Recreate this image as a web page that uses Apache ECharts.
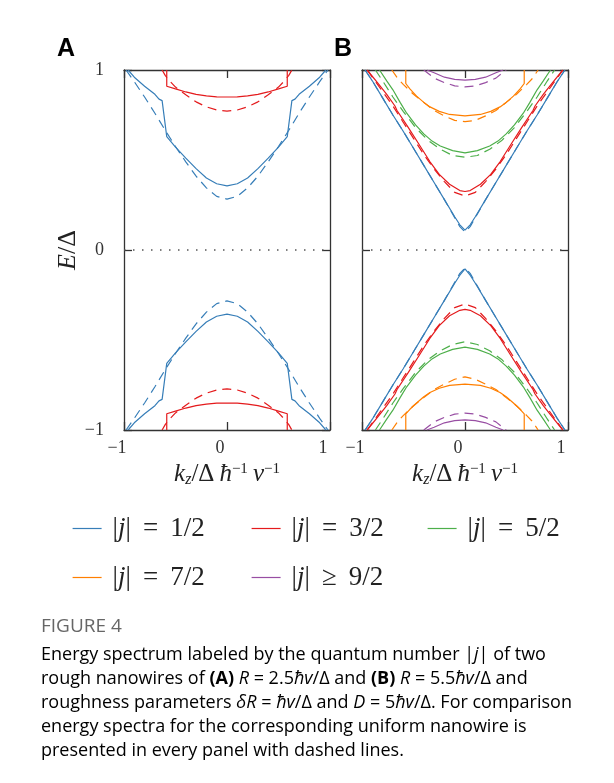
<!DOCTYPE html>
<html><head><meta charset="utf-8">
<script src="https://cdn.jsdelivr.net/npm/echarts@6/dist/echarts.min.js"></script>
<style>html,body{margin:0;padding:0;background:#fff}#c{width:614px;height:783px}</style>
</head><body><div id="c"></div>
<script>
// ---------- DATA ----------
const xTicks = [-1, 0, 1];
const yTicks = [-1, 0, 1];
const legendNames = ['|j| = 1/2', '|j| = 3/2', '|j| = 5/2', '|j| = 7/2', '|j| ≥ 9/2'];
const colors = ['#377eb8', '#e41a1c', '#4daf4a', '#ff7f00', '#984ea3'];

// Panel A (R = 2.5) — rough (solid) and uniform (dashed)
const kA_b   = [-0.96,-0.9,-0.8,-0.7,-0.66,-0.63,-0.585,-0.5,-0.4,-0.3,-0.2,-0.1,0,0.1,0.2,0.3,0.4,0.5,0.585,0.63,0.66,0.7,0.8,0.9,0.96];
const eA_b_up= [1.0,0.96,0.91,0.865,0.838,0.83,0.63,0.572,0.51,0.452,0.40,0.368,0.356,0.368,0.40,0.452,0.51,0.572,0.63,0.83,0.838,0.865,0.91,0.96,1.0];
const eA_b_dn= [-1.0,-0.96,-0.91,-0.865,-0.838,-0.83,-0.63,-0.572,-0.51,-0.452,-0.40,-0.368,-0.356,-0.368,-0.40,-0.452,-0.51,-0.572,-0.63,-0.83,-0.838,-0.865,-0.91,-0.96,-1.0];
const kA_bd  = [-0.98,-0.9,-0.8,-0.7,-0.6,-0.5,-0.4,-0.3,-0.2,-0.1,0,0.1,0.2,0.3,0.4,0.5,0.6,0.7,0.8,0.9,0.98];
const eA_bd_up=[1.0,0.935,0.85,0.76,0.665,0.575,0.49,0.41,0.345,0.298,0.283,0.298,0.345,0.41,0.49,0.575,0.665,0.76,0.85,0.935,1.0];
const eA_bd_dn=[-1.0,-0.935,-0.85,-0.76,-0.665,-0.575,-0.49,-0.41,-0.345,-0.298,-0.283,-0.298,-0.345,-0.41,-0.49,-0.575,-0.665,-0.76,-0.85,-0.935,-1.0];
const kA_r   = [-0.585,-0.585,-0.5,-0.4,-0.3,-0.2,-0.1,0,0.1,0.2,0.3,0.4,0.5,0.585,0.585];
const eA_r_up= [1.0,0.91,0.895,0.878,0.865,0.856,0.851,0.85,0.851,0.856,0.865,0.878,0.895,0.91,1.0];
const eA_r_dn= [-1.0,-0.91,-0.895,-0.878,-0.865,-0.856,-0.851,-0.85,-0.851,-0.856,-0.865,-0.878,-0.895,-0.91,-1.0];
const kA_rd  = [-0.63,-0.6,-0.55,-0.5,-0.4,-0.3,-0.2,-0.1,0,0.1,0.2,0.3,0.4,0.5,0.55,0.6,0.63];
const eA_rd_up=[1.0,0.97,0.935,0.905,0.862,0.823,0.795,0.778,0.772,0.778,0.795,0.823,0.862,0.905,0.935,0.97,1.0];
const eA_rd_dn=[-1.0,-0.97,-0.935,-0.905,-0.862,-0.823,-0.795,-0.778,-0.772,-0.778,-0.795,-0.823,-0.862,-0.905,-0.935,-0.97,-1.0];

// Panel B (R = 5.5)
const kB_b   = [-0.97,-0.9,-0.8,-0.7,-0.6,-0.5,-0.4,-0.3,-0.2,-0.1,-0.05,0,0.05,0.1,0.2,0.3,0.4,0.5,0.6,0.7,0.8,0.9,0.97];
const eB_b_up= [1.0,0.94,0.845,0.75,0.66,0.565,0.47,0.375,0.28,0.185,0.14,0.11,0.14,0.185,0.28,0.375,0.47,0.565,0.66,0.75,0.845,0.94,1.0];
const eB_b_dn= [-1.0,-0.94,-0.845,-0.75,-0.66,-0.565,-0.47,-0.375,-0.28,-0.185,-0.14,-0.105,-0.14,-0.185,-0.28,-0.375,-0.47,-0.565,-0.66,-0.75,-0.845,-0.94,-1.0];
const eB_bd_up=[1.0,0.94,0.845,0.75,0.66,0.565,0.47,0.375,0.28,0.18,0.13,0.10,0.13,0.18,0.28,0.375,0.47,0.565,0.66,0.75,0.845,0.94,1.0];
const eB_bd_dn=[-1.0,-0.94,-0.845,-0.75,-0.66,-0.565,-0.47,-0.375,-0.28,-0.18,-0.13,-0.10,-0.13,-0.18,-0.28,-0.375,-0.47,-0.565,-0.66,-0.75,-0.845,-0.94,-1.0];
const kB_r   = [-0.95,-0.85,-0.76,-0.68,-0.66,-0.55,-0.45,-0.34,-0.25,-0.15,-0.05,0,0.05,0.15,0.25,0.34,0.45,0.55,0.66,0.68,0.76,0.85,0.95];
const eB_r_up= [1.0,0.93,0.865,0.8,0.775,0.68,0.59,0.49,0.42,0.365,0.33,0.325,0.33,0.365,0.42,0.49,0.59,0.68,0.775,0.8,0.865,0.93,1.0];
const eB_r_dn= [-1.0,-0.93,-0.865,-0.8,-0.775,-0.68,-0.59,-0.49,-0.42,-0.365,-0.335,-0.33,-0.335,-0.365,-0.42,-0.49,-0.59,-0.68,-0.775,-0.8,-0.865,-0.93,-1.0];
const kB_rd  = [-0.95,-0.9,-0.8,-0.7,-0.6,-0.5,-0.4,-0.3,-0.2,-0.1,0,0.1,0.2,0.3,0.4,0.5,0.6,0.7,0.8,0.9,0.95];
const eB_rd_up=[1.0,0.96,0.88,0.80,0.71,0.62,0.53,0.45,0.38,0.32,0.30,0.32,0.38,0.45,0.53,0.62,0.71,0.80,0.88,0.96,1.0];
const eB_rd_dn=[-1.0,-0.96,-0.88,-0.80,-0.71,-0.62,-0.53,-0.45,-0.38,-0.32,-0.30,-0.32,-0.38,-0.45,-0.53,-0.62,-0.71,-0.80,-0.88,-0.96,-1.0];
const kB_g   = [-0.83,-0.76,-0.70,-0.63,-0.566,-0.48,-0.40,-0.32,-0.24,-0.12,0,0.12,0.24,0.32,0.40,0.48,0.566,0.63,0.70,0.76,0.83];
const eB_g_up= [1.0,0.94,0.89,0.82,0.76,0.695,0.645,0.605,0.578,0.552,0.54,0.552,0.578,0.605,0.645,0.695,0.76,0.82,0.89,0.94,1.0];
const eB_g_dn= [-1.0,-0.94,-0.89,-0.82,-0.76,-0.695,-0.645,-0.605,-0.578,-0.552,-0.54,-0.552,-0.578,-0.605,-0.645,-0.695,-0.76,-0.82,-0.89,-0.94,-1.0];
const kB_gd  = [-0.87,-0.8,-0.7,-0.6,-0.48,-0.36,-0.24,-0.12,0,0.12,0.24,0.36,0.48,0.6,0.7,0.8,0.87];
const eB_gd_up=[1.0,0.94,0.85,0.77,0.68,0.61,0.56,0.525,0.515,0.525,0.56,0.61,0.68,0.77,0.85,0.94,1.0];
const eB_gd_dn=[-1.0,-0.94,-0.85,-0.77,-0.68,-0.61,-0.56,-0.525,-0.51,-0.525,-0.56,-0.61,-0.68,-0.77,-0.85,-0.94,-1.0];
const kB_o   = [-0.575,-0.575,-0.535,-0.47,-0.4,-0.34,-0.25,-0.15,0,0.15,0.25,0.34,0.4,0.47,0.535,0.575,0.575];
const eB_o_up= [1.0,0.925,0.895,0.855,0.82,0.795,0.77,0.753,0.745,0.753,0.77,0.795,0.82,0.855,0.895,0.925,1.0];
const eB_o_dn= [-1.0,-0.91,-0.885,-0.85,-0.815,-0.792,-0.768,-0.752,-0.745,-0.752,-0.768,-0.792,-0.815,-0.85,-0.885,-0.91,-1.0];
const kB_od  = [-0.71,-0.65,-0.6,-0.5,-0.4,-0.3,-0.2,-0.1,0,0.1,0.2,0.3,0.4,0.5,0.6,0.65,0.71];
const eB_od_up=[1.0,0.95,0.92,0.865,0.82,0.775,0.745,0.72,0.713,0.72,0.745,0.775,0.82,0.865,0.92,0.95,1.0];
const eB_od_dn=[-1.0,-0.95,-0.92,-0.865,-0.82,-0.775,-0.745,-0.718,-0.705,-0.718,-0.745,-0.775,-0.82,-0.865,-0.92,-0.95,-1.0];
const kB_p   = [-0.37,-0.3,-0.2,-0.1,0,0.1,0.2,0.3,0.37];
const eB_p_up= [1.0,0.985,0.96,0.948,0.944,0.948,0.96,0.985,1.0];
const eB_p_dn= [-1.0,-0.985,-0.96,-0.948,-0.944,-0.948,-0.96,-0.985,-1.0];
const kB_pd  = [-0.4,-0.3,-0.2,-0.1,0,0.1,0.2,0.3,0.4];
const eB_pd_up=[1.0,0.955,0.93,0.912,0.906,0.912,0.93,0.955,1.0];
const eB_pd_dn=[-1.0,-0.955,-0.93,-0.912,-0.906,-0.912,-0.93,-0.955,-1.0];
const zeroLine = [[-1, 0], [1, 0]];

// ---------- CHART ----------
const SERIF = "'Liberation Serif', 'DejaVu Serif', serif";
const SANS = "'Open Sans', 'Noto Sans', sans-serif";
const axisColor = '#333';

function pairs(k, e) { return k.map((x, i) => [x, e[i]]); }
function line(name, gi, k, e, ci, dashed) {
  return {
    name: name, type: 'line', xAxisIndex: gi * 2, yAxisIndex: gi * 2,
    data: pairs(k, e), symbol: 'none', clip: true, animation: false,
    lineStyle: { color: colors[ci], width: 1.2, type: dashed ? [9, 6] : 'solid' },
    itemStyle: { color: colors[ci] }, z: dashed ? 3 : 4
  };
}
const tickLbl = v => (v < 0 ? '\u2212' + Math.abs(v) : String(v));

function xAx(gi, pos, showLabel, withName) {
  return {
    type: 'value', gridIndex: gi, position: pos, min: -1, max: 1, interval: 1,
    axisLine: { show: true, onZero: false, lineStyle: { color: axisColor, width: 1.3 } },
    axisTick: { show: true, inside: true, length: 8, lineStyle: { color: axisColor, width: 1.3 } },
    splitLine: { show: false },
    axisLabel: { show: showLabel, formatter: tickLbl, fontFamily: SERIF, fontSize: 18, color: '#333', margin: 9, padding: [0, 14, 0, 0] },
    name: withName ? '{i|k}{s|z}{n|/\u0394\u2009}{i|\u0127}{p|\u22121}{n|\u2009}{i|v}{p|\u22121}' : '',
    nameLocation: 'middle', nameGap: 31,
    nameTextStyle: {
      rich: {
        i: { fontFamily: SERIF, fontStyle: 'italic', fontSize: 25, color: '#222' },
        n: { fontFamily: SERIF, fontSize: 25, color: '#222' },
        s: { fontFamily: SERIF, fontStyle: 'italic', fontSize: 16, color: '#222', padding: [11, 0, 0, 0] },
        p: { fontFamily: SERIF, fontSize: 15, color: '#222', padding: [0, 0, 11, 0] }
      }
    }
  };
}
function yAx(gi, pos, showLabel, withName) {
  return {
    type: 'value', gridIndex: gi, position: pos, min: -1, max: 1, interval: 1,
    axisLine: { show: true, onZero: false, lineStyle: { color: axisColor, width: 1.3 } },
    axisTick: { show: true, inside: true, length: 8, lineStyle: { color: axisColor, width: 1.3 } },
    splitLine: { show: false },
    axisLabel: { show: showLabel, formatter: tickLbl, fontFamily: SERIF, fontSize: 18, color: '#333', margin: 20 },
    name: withName ? '{i|E}{n|/\u0394}' : '',
    nameLocation: 'middle', nameGap: 41, nameRotate: 90,
    nameTextStyle: {
      rich: {
        i: { fontFamily: SERIF, fontStyle: 'italic', fontSize: 26, color: '#222' },
        n: { fontFamily: SERIF, fontSize: 26, color: '#222' }
      }
    }
  };
}

const series = [
  // Panel A
  line('uA1', 0, kA_bd, eA_bd_up, 0, true), line('uA1d', 0, kA_bd, eA_bd_dn, 0, true),
  line('uA2', 0, kA_rd, eA_rd_up, 1, true), line('uA2d', 0, kA_rd, eA_rd_dn, 1, true),
  line(legendNames[0], 0, kA_b, eA_b_up, 0, false), line('rA1d', 0, kA_b, eA_b_dn, 0, false),
  line(legendNames[1], 0, kA_r, eA_r_up, 1, false), line('rA2d', 0, kA_r, eA_r_dn, 1, false),
  // Panel B
  line('uB1', 1, kB_b, eB_bd_up, 0, true), line('uB1d', 1, kB_b, eB_bd_dn, 0, true),
  line('uB2', 1, kB_rd, eB_rd_up, 1, true), line('uB2d', 1, kB_rd, eB_rd_dn, 1, true),
  line('uB3', 1, kB_gd, eB_gd_up, 2, true), line('uB3d', 1, kB_gd, eB_gd_dn, 2, true),
  line('uB4', 1, kB_od, eB_od_up, 3, true), line('uB4d', 1, kB_od, eB_od_dn, 3, true),
  line('uB5', 1, kB_pd, eB_pd_up, 4, true), line('uB5d', 1, kB_pd, eB_pd_dn, 4, true),
  line('rB1', 1, kB_b, eB_b_up, 0, false), line('rB1d', 1, kB_b, eB_b_dn, 0, false),
  line('rB2', 1, kB_r, eB_r_up, 1, false), line('rB2d', 1, kB_r, eB_r_dn, 1, false),
  line(legendNames[2], 1, kB_g, eB_g_up, 2, false), line('rB3d', 1, kB_g, eB_g_dn, 2, false),
  line(legendNames[3], 1, kB_o, eB_o_up, 3, false), line('rB4d', 1, kB_o, eB_o_dn, 3, false),
  line(legendNames[4], 1, kB_p, eB_p_up, 4, false), line('rB5d', 1, kB_p, eB_p_dn, 4, false)
];
[0, 1].forEach(gi => series.push({
  type: 'line', xAxisIndex: gi * 2, yAxisIndex: gi * 2, data: zeroLine, symbol: 'none', animation: false,
  lineStyle: { color: '#555', width: 1.3, type: [1.5, 7.5] }, z: 2
}));

const legendPos = [[72, 515], [251, 515], [427, 515], [72, 564], [251, 564]];
const legends = legendNames.map((n, i) => ({
  data: [n], left: legendPos[i][0], top: legendPos[i][1], orient: 'horizontal', padding: 0,
  itemWidth: 29, itemHeight: 14, selectedMode: false,
  itemStyle: { opacity: 0, borderWidth: 0 },
  lineStyle: { width: 1.2 },
  formatter: name => {
    const rest = name.replace('|j| ', '');
    const op = rest.charAt(0); const frac = rest.slice(2);
    return '{m||}{j|j}{m||}{e|' + op + '}{m|' + frac + '}';
  },
  textStyle: {
    padding: [0, 0, 0, 6],
    rich: {
      m: { fontFamily: SERIF, fontSize: 27, color: '#222', lineHeight: 30 },
      j: { fontFamily: SERIF, fontSize: 27, fontStyle: 'italic', color: '#222', lineHeight: 30 },
      e: { fontFamily: SERIF, fontSize: 27, color: '#222', lineHeight: 30, padding: [0, 12, 0, 12] }
    }
  }
}));

const capLines = [
  '{n|Energy spectrum labeled by the quantum number |}{i|j}{n|| of two}',
  '{n|rough nanowires of }{b|(A)}{n| }{i|R}{n| = 2.5}{i|\u0127v}{n|/\u0394 and }{b|(B)}{n| }{i|R}{n| = 5.5}{i|\u0127v}{n|/\u0394 and}',
  '{n|roughness parameters }{i|\u03b4R}{n| = }{i|\u0127v}{n|/\u0394 and }{i|D}{n| = 5}{i|\u0127v}{n|/\u0394. For comparison}',
  '{n|energy spectra for the corresponding uniform nanowire is}',
  '{n|presented in every panel with dashed lines.}'
];
const capColor = '#555';
const capRich = {
  n: { fontFamily: SANS, fontSize: 18, color: capColor },
  i: { fontFamily: SANS, fontSize: 18, fontStyle: 'italic', color: capColor },
  b: { fontFamily: SANS, fontSize: 18, fontWeight: 'bold', color: capColor }
};
const graphics = [
  { type: 'text', x: 57, y: 49, style: { text: 'A', font: "bold 25px 'Liberation Sans', Arial, sans-serif", fill: '#000', verticalAlign: 'middle' } },
  { type: 'text', x: 334, y: 49, style: { text: 'B', font: "bold 25px 'Liberation Sans', Arial, sans-serif", fill: '#000', verticalAlign: 'middle' } },
  { type: 'text', x: 41, y: 627, style: { text: 'FIGURE 4', font: "19px 'Open Sans', sans-serif", fill: '#666', verticalAlign: 'middle' } }
];
capLines.forEach((t, i) => graphics.push({
  type: 'text', x: 41, y: 655 + i * 24, style: { text: t, rich: capRich, verticalAlign: 'middle' }
}));

const option = {
  backgroundColor: '#fff',
  animation: false,
  grid: [
    { left: 124, top: 70, width: 206, height: 360 },
    { left: 362, top: 70, width: 206, height: 360 }
  ],
  xAxis: [xAx(0, 'bottom', true, true), xAx(0, 'top', false, false), xAx(1, 'bottom', true, true), xAx(1, 'top', false, false)],
  yAxis: [yAx(0, 'left', true, true), yAx(0, 'right', false, false), yAx(1, 'left', false, false), yAx(1, 'right', false, false)],
  legend: legends,
  series: series,
  graphic: graphics
};
const chart = echarts.init(document.getElementById('c'), null, { renderer: 'canvas' });
chart.setOption(option);
</script></body></html>
